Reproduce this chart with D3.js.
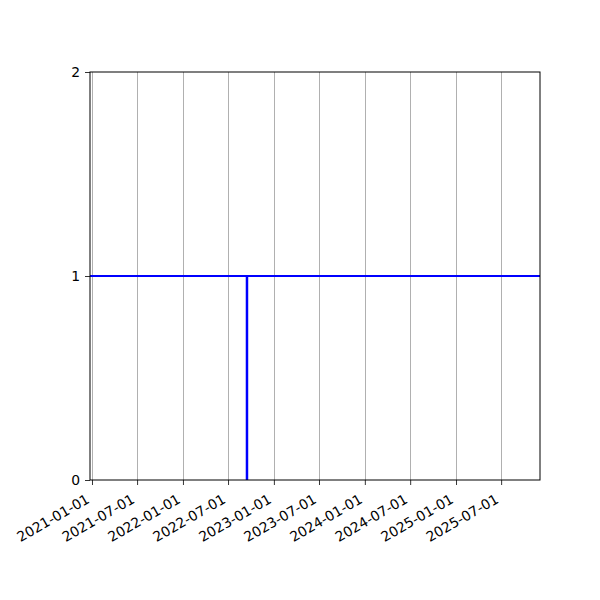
<!DOCTYPE html>
<html>
<head>
<meta charset="utf-8">
<script src="https://cdn.jsdelivr.net/npm/d3@7"></script>
<style>
  body { margin: 0; background: #fff; }
  text { font-family: "DejaVu Sans", sans-serif; }
</style>
</head>
<body>
<div id="chart"></div>
<script>
// axis range and ticks
var xRange = ["2020-12-24", "2025-12-04"];
var yRange = [0, 2];
var xTickLabels = ["2021-01-01", "2021-07-01", "2022-01-01", "2022-07-01", "2023-01-01",
                   "2023-07-01", "2024-01-01", "2024-07-01", "2025-01-01", "2025-07-01"];
var yTickLabels = [0, 1, 2];

// the series: flat line at 1 and one vertical drop
var levelValue = 1;
var dropDate = "2022-09-15";
var dropValues = [0, 1];

var parse = d3.timeParse("%Y-%m-%d");

var margin = {top: 72, right: 60, bottom: 120, left: 90};
var width = 600 - margin.left - margin.right;
var height = 600 - margin.top - margin.bottom;

var svg = d3.select("#chart").append("svg")
    .attr("width", 600)
    .attr("height", 600);

var g = svg.append("g")
    .attr("transform", "translate(" + margin.left + "," + margin.top + ")");

var x = d3.scaleTime().domain(xRange.map(parse)).range([0, width]);
var y = d3.scaleLinear().domain(yRange).range([height, 0]);

// vertical grid
g.selectAll(".grid")
    .data(xTickLabels)
    .enter().append("line")
    .attr("x1", function(d) { return Math.round(x(parse(d))) + 0.5; })
    .attr("x2", function(d) { return Math.round(x(parse(d))) + 0.5; })
    .attr("y1", 0)
    .attr("y2", height)
    .attr("stroke", "#b0b0b0")
    .attr("stroke-width", 1);

// lines
var line = d3.line()
    .x(function(d) { return x(d[0]); })
    .y(function(d) { return y(d[1]); });

g.append("path")
    .datum([[x.domain()[0], levelValue], [x.domain()[1], levelValue]])
    .attr("d", line)
    .attr("fill", "none")
    .attr("stroke", "#0000ff")
    .attr("stroke-width", 2);

g.append("path")
    .datum(dropValues.map(function(v) { return [parse(dropDate), v]; }))
    .attr("d", line)
    .attr("fill", "none")
    .attr("stroke", "#0000ff")
    .attr("stroke-width", 2.5);

// axes
var xAxis = d3.axisBottom(x)
    .tickValues(xTickLabels.map(parse))
    .tickFormat(d3.timeFormat("%Y-%m-%d"))
    .tickSize(5)
    .tickPadding(5);

var gx = g.append("g")
    .attr("transform", "translate(0," + height + ")")
    .call(xAxis);
gx.select(".domain").remove();
gx.selectAll(".tick line").attr("stroke", "#000").attr("stroke-width", 0.8);
gx.selectAll(".tick text")
    .attr("font-size", 13.9)
    .attr("font-family", "DejaVu Sans, sans-serif")
    .attr("fill", "#000")
    .attr("text-anchor", "end")
    .attr("y", 0)
    .attr("dy", 0)
    .attr("transform", "translate(-2,22) rotate(-30)");

var yAxis = d3.axisLeft(y)
    .tickValues(yTickLabels)
    .tickFormat(d3.format("d"))
    .tickSize(5)
    .tickPadding(5);

var gy = g.append("g").call(yAxis);
gy.select(".domain").remove();
gy.selectAll(".tick line").attr("stroke", "#000").attr("stroke-width", 0.8);
gy.selectAll(".tick text")
    .attr("font-size", 13.9)
    .attr("font-family", "DejaVu Sans, sans-serif")
    .attr("fill", "#000");

// frame
g.append("rect")
    .attr("width", width)
    .attr("height", height)
    .attr("fill", "none")
    .attr("stroke", "#000")
    .attr("stroke-width", 1);
</script>
</body>
</html>
